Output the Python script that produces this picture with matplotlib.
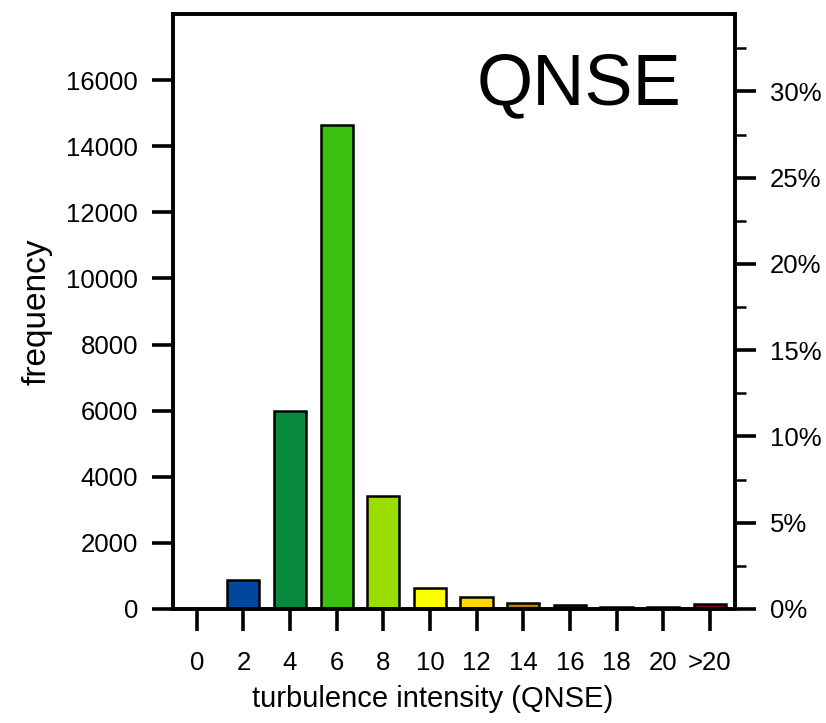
import matplotlib.pyplot as plt
from matplotlib.ticker import MultipleLocator, FuncFormatter

plt.rcParams['font.family'] = ['Liberation Sans', 'DejaVu Sans']

# turbulence intensity bins and counts per bin
bins = ['0', '2', '4', '6', '8', '10', '12', '14', '16', '18', '20', '>20']
counts = [0, 880, 6000, 14650, 3420, 620, 350, 190, 115, 70, 70, 150]
colors = ['#ffffff', '#0047a0', '#078a3c', '#3cc010', '#9ade00', '#ffff00',
          '#ffd700', '#b8860b', '#4a3008', '#5a2010', '#701020', '#800030']

# total number of samples used for the percentage axis
total_samples = 52200


def plot_histogram():
    fig = plt.figure(figsize=(8.26, 7.23), dpi=100)
    ax = fig.add_axes([0.2094, 0.1577, 0.6804, 0.8229])

    x = list(range(len(bins)))
    ax.bar(x, counts, width=0.69, color=colors, edgecolor='black',
           linewidth=1.8, zorder=2)

    ax.set_xlim(-0.51, 11.54)
    ax.set_ylim(0, 18000)
    ax.set_xticks(x)
    ax.set_xticklabels(bins)
    ax.set_yticks(range(0, 16001, 2000))

    for s in ax.spines.values():
        s.set_linewidth(2.6)

    ax.tick_params(axis='x', direction='out', length=16, width=2.6,
                   labelsize=18.5, pad=14)
    ax.tick_params(axis='y', direction='out', length=15, width=2.6,
                   labelsize=18.5, pad=10)
    ax.set_xlabel('turbulence intensity (QNSE)', fontsize=21, va='center')
    ax.xaxis.set_label_coords(0.462, -0.152)
    ax.set_ylabel('frequency', fontsize=24, labelpad=10)

    # right-hand axis in percent of all samples
    ax2 = ax.twinx()
    ax2.set_ylim(0, 18000 / total_samples * 100)
    ax2.yaxis.set_major_locator(MultipleLocator(5))
    ax2.yaxis.set_minor_locator(MultipleLocator(2.5))
    ax2.yaxis.set_major_formatter(FuncFormatter(lambda v, p: f'{v:.0f}%'))
    ax2.tick_params(axis='y', which='major', direction='out', length=15,
                    width=2.6, labelsize=18.5, pad=10)
    ax2.tick_params(axis='y', which='minor', direction='out', length=8,
                    width=1.8)
    for s in ax2.spines.values():
        s.set_linewidth(2.6)

    ax.text(0.905, 0.935, 'QNSE', transform=ax.transAxes, fontsize=52,
            ha='right', va='top')

    fig.savefig('out.png', dpi=100)


if __name__ == "__main__":
    plot_histogram()
